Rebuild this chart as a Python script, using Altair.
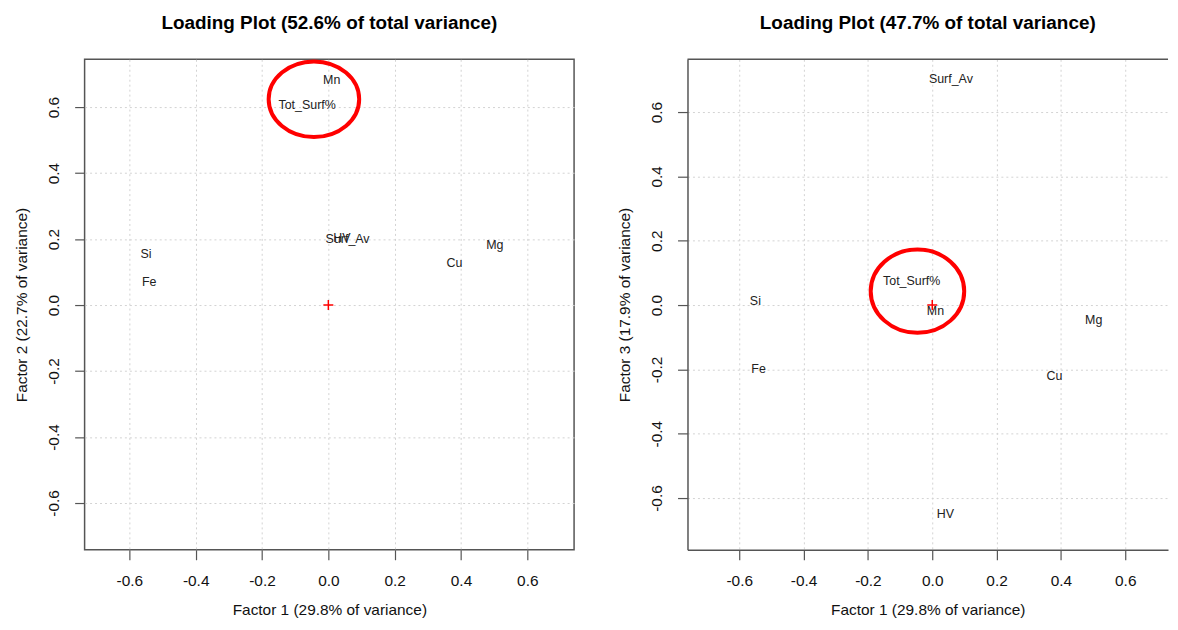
import altair as alt
import pandas as pd

# ---- data ----
variables = ["Si", "Fe", "Tot_Surf%", "Mn", "Cu", "Mg", "HV", "Surf_Av"]
factor1 = [-0.550, -0.540, -0.064, 0.010, 0.380, 0.502, 0.041, 0.058]
factor2 = [0.156, 0.070, 0.605, 0.681, 0.126, 0.183, 0.204, 0.199]
factor3 = [0.013, -0.198, 0.075, -0.018, -0.222, -0.046, -0.650, 0.702]

tick_values = [-0.6, -0.4, -0.2, 0.0, 0.2, 0.4, 0.6]
panel_titles = ["Loading Plot (52.6% of total variance)",
                "Loading Plot (47.7% of total variance)"]
x_title = "Factor 1 (29.8% of variance)"
y_titles = ["Factor 2 (22.7% of variance)", "Factor 3 (17.9% of variance)"]

left_x_domain = [-0.735, 0.741]
left_y_domain = [-0.742, 0.745]
right_x_domain = [-0.761, 0.733]
right_y_domain = [-0.761, 0.764]

# hand-drawn highlight ellipses (centre in data units)
highlight_x = [-0.0435, -0.046]
highlight_y = [0.624, 0.043]

FONT = "Liberation Sans"
LABEL_EXPR = "replace(format(datum.value, '.1f'), '\u2212', '-')"
PLUS = "M-1,0L1,0M0,-1L0,1"
ELLIPSE_L = "M-1,0A1,0.835 0 1,1 1,0A1,0.835 0 1,1 -1,0"
ELLIPSE_R = "M-1,0A1,0.89 0 1,1 1,0A1,0.89 0 1,1 -1,0"

PLOT_H = 493
FRAME = "#555555"


def x_axis(show_domain):
    return alt.Axis(values=tick_values, labelExpr=LABEL_EXPR, title=x_title,
                    grid=True, gridColor="#d3d3d3", gridDash=[2, 3], gridWidth=1,
                    tickSize=10, tickColor=FRAME, tickWidth=1.2,
                    domain=show_domain, domainColor=FRAME, domainWidth=1.5,
                    labelFont=FONT, labelFontSize=15.5, labelColor="#111111",
                    labelPadding=14, labelFlush=False,
                    titleFont=FONT, titleFontSize=15.5, titleFontWeight="normal",
                    titleColor="#111111", titlePadding=14)


def y_axis(title, show_domain):
    return alt.Axis(values=tick_values, labelExpr=LABEL_EXPR, title=title,
                    grid=True, gridColor="#d3d3d3", gridDash=[2, 3], gridWidth=1,
                    tickSize=10, tickColor=FRAME, tickWidth=1.2,
                    domain=show_domain, domainColor=FRAME, domainWidth=1.5,
                    labelFont=FONT, labelFontSize=15.5, labelColor="#111111",
                    labelAngle=270, labelAlign="center", labelBaseline="bottom",
                    labelPadding=13, labelFlush=False,
                    titleFont=FONT, titleFontSize=15.5, titleFontWeight="normal",
                    titleColor="#111111", titlePadding=17)


def panel(ycol, ytitle, title, xdom, ydom, hx, hy, ell_path, ell_size, width,
          full_box, title_offset):
    df = pd.DataFrame({"variable": variables, "f1": factor1, "fy": ycol})
    origin = pd.DataFrame({"f1": [0.0], "fy": [0.0]})
    hl = pd.DataFrame({"f1": [hx], "fy": [hy]})
    xs = alt.Scale(domain=xdom, zero=False, nice=False)
    ys = alt.Scale(domain=ydom, zero=False, nice=False)

    text = alt.Chart(df).mark_text(font=FONT, fontSize=12.5, color="#222222",
                                   align="center", baseline="middle").encode(
        x=alt.X("f1:Q", scale=xs, axis=x_axis(not full_box)),
        y=alt.Y("fy:Q", scale=ys, axis=y_axis(ytitle, not full_box)),
        text="variable:N")

    ell = alt.Chart(hl).mark_point(shape=ell_path, filled=False, stroke="#ff0000",
                                   strokeWidth=4, size=ell_size, opacity=1).encode(
        x=alt.X("f1:Q", scale=xs),
        y=alt.Y("fy:Q", scale=ys))

    plus = alt.Chart(origin).mark_point(shape=PLUS, filled=False, stroke="#ff0000",
                                        strokeWidth=1.5, size=100, opacity=1).encode(
        x=alt.X("f1:Q", scale=xs),
        y=alt.Y("fy:Q", scale=ys))

    layers = [text, ell, plus]
    if full_box:
        view = alt.ViewBackground(stroke=FRAME, strokeWidth=1.5)
    else:
        # top edge of the frame (the right edge lies outside the picture)
        top_edge = alt.Chart(origin).mark_rule(color=FRAME, strokeWidth=1.5).encode(
            y=alt.datum(ydom[1], scale=ys))
        layers.append(top_edge)
        view = alt.ViewBackground(stroke="transparent")

    return alt.layer(*layers).properties(
        width=width, height=PLOT_H, view=view,
        title=alt.TitleParams(title, font=FONT, fontSize=19, fontWeight="bold",
                              anchor="middle", color="#000000", offset=title_offset))


left = panel(factor2, y_titles[0], panel_titles[0], left_x_domain, left_y_domain,
             highlight_x[0], highlight_y[0], ELLIPSE_L, 91 * 91, 492, True, 21)
right = panel(factor3, y_titles[1], panel_titles[1], right_x_domain, right_y_domain,
              highlight_x[1], highlight_y[1], ELLIPSE_R, 94 * 94, 483, False, 26)

chart = alt.hconcat(left, right, spacing=42).properties(
    padding={"left": 6, "top": 3, "right": 0, "bottom": 0},
    background="white")

chart.save("out.html", embed_options={"renderer": "svg", "actions": False})
